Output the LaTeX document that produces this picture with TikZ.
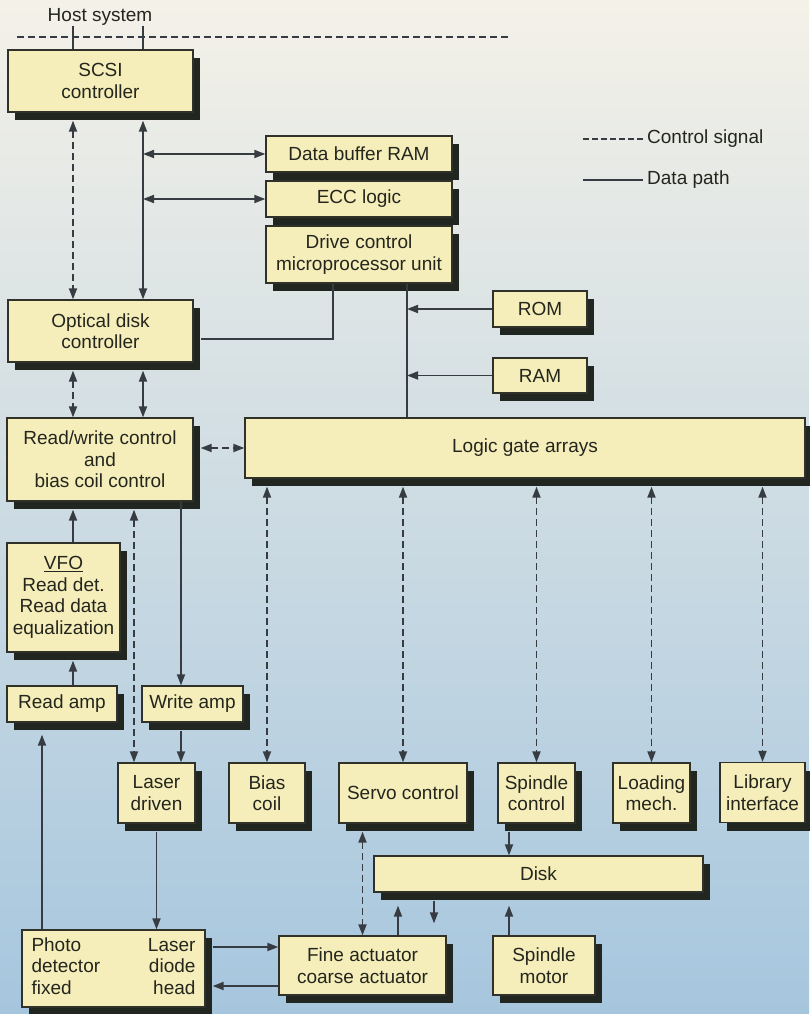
\documentclass[tikz,border=0pt]{standalone}
\usepackage{fontspec}
\setmainfont{Liberation Sans}
\usetikzlibrary{arrows.meta,shadows}

\definecolor{bgtop}{RGB}{244,241,232}
\definecolor{bgmid}{RGB}{212,222,226}
\definecolor{bgbot}{RGB}{166,198,222}
\definecolor{boxfill}{RGB}{245,238,186}
\definecolor{boxline}{RGB}{48,50,42}
\definecolor{shadowc}{RGB}{34,38,32}
\definecolor{wire}{RGB}{55,60,66}
\definecolor{inkc}{RGB}{36,38,30}

\begin{document}
\begin{tikzpicture}[x=1pt,y=-1pt]
	\tikzset{blk/.style = {draw=boxline, fill=boxfill, line width=1.3pt, inner sep=0pt, align=center, text=inkc,
			font=\fontsize{19}{21.5}\selectfont,
			drop shadow={shadow xshift=7pt, shadow yshift=-8pt, opacity=1, fill=shadowc}},
		lbl/.style = {text=inkc, font=\fontsize{19}{21.5}\selectfont, inner sep=0pt},
		dat/.style = {draw=wire, line width=1.8pt},
		ctl/.style = {draw=wire, line width=1.8pt, dash pattern=on 7pt off 4pt},
		onearr/.style = {-{Triangle[length=11pt,width=8pt]}},
		twoarr/.style = {{Triangle[length=11pt,width=8pt]}-{Triangle[length=11pt,width=8pt]}}}
	
	\useasboundingbox (0,0) rectangle (809,1014);
	\shade[top color=bgtop, middle color=bgmid, bottom color=bgbot] (0,0) rectangle (809,1014);
	
	% columns and rows used by the wires
	\coordinate (cA) at (73,0);
	\coordinate (cB) at (143,0);
	\coordinate (cC) at (333,0);
	\coordinate (cD) at (407,0);
	\coordinate (cE) at (134,0);
	\coordinate (cF) at (181,0);
	\coordinate (cG) at (42,0);
	\coordinate (cH) at (398,0);
	\coordinate (cI) at (434,0);
	\coordinate (cJ) at (509,0);
	\coordinate (rA) at (0,947);
	\coordinate (rB) at (0,986);
	
	\node[lbl] (host) at (100,17) {Host system};
	\coordinate (hostL) at (17,37);
	\coordinate (hostR) at (510,37);
	
	\node[blk, minimum width=185pt, minimum height=62pt] (scsi) at (100.5,81) {SCSI\\controller};
	\node[blk, minimum width=186pt, minimum height=36pt] (buf) at (359,154) {Data buffer RAM};
	\node[blk, minimum width=186pt, minimum height=36pt] (ecc) at (359,199) {ECC logic};
	\node[blk, minimum width=186pt, minimum height=57pt] (mpu) at (359,254.5) {Drive control\\microprocessor unit};
	\node[blk, minimum width=185pt, minimum height=62pt] (odc) at (100.5,331) {Optical disk\\controller};
	\node[blk, minimum width=94pt, minimum height=36pt] (rom) at (540,309) {ROM};
	\node[blk, minimum width=94pt, minimum height=35pt] (ram) at (540,375.5) {RAM};
	\node[blk, minimum width=186pt, minimum height=83pt] (rw) at (100,459.5) {Read/write control\\and\\bias coil control};
	\node[blk, minimum width=560pt, minimum height=60pt] (lga) at (525,448) {Logic gate arrays};
	\node[blk, minimum width=113pt, minimum height=109pt] (vfo) at (63.5,597.5) {\underline{VFO}\\Read det.\\Read data\\equalization};
	\node[blk, minimum width=110pt, minimum height=36pt] (ramp) at (62,704) {Read amp};
	\node[blk, minimum width=101pt, minimum height=36pt] (wamp) at (192.5,704) {Write amp};
	\node[blk, minimum width=77pt, minimum height=60pt] (ldrv) at (156.5,793) {Laser\\driven};
	\node[blk, minimum width=76pt, minimum height=60pt] (bias) at (267,793) {Bias\\coil};
	\node[blk, minimum width=128pt, minimum height=60pt] (servo) at (403,793) {Servo control};
	\node[blk, minimum width=77pt, minimum height=60pt] (spc) at (536.5,793) {Spindle\\control};
	\node[blk, minimum width=77pt, minimum height=60pt] (load) at (651.5,793) {Loading\\mech.};
	\node[blk, minimum width=85pt, minimum height=60pt] (lib) at (762.5,792.5) {Library\\interface};
	\node[blk, minimum width=329pt, minimum height=36pt] (disk) at (538.5,874) {Disk};
	\node[blk, minimum width=167pt, minimum height=59pt] (fine) at (362.5,965.5) {Fine actuator\\coarse actuator};
	\node[blk, minimum width=102pt, minimum height=59pt] (smot) at (544,965.5) {Spindle\\motor};
	\node[blk, minimum width=183pt, minimum height=77pt] (head) at (113.5,968.5)
		{\begin{tabular*}{164pt}{@{}l@{\extracolsep{\fill}}r@{}}Photo & Laser\\ detector & diode\\ fixed & head\end{tabular*}};
	
	% legend
	\node[lbl, anchor=west] (lgctl) at (647,139) {Control signal};
	\node[lbl, anchor=west] (lgdat) at (647,180) {Data path};
	\coordinate (lgc0) at (583,139);
	\coordinate (lgd0) at (583,180);
	\draw[ctl, line width=1.1pt, dash pattern=on 6pt off 3pt] (lgc0) -- ([xshift=-4pt]lgctl.west);
	\draw[dat, line width=1.1pt] (lgd0) -- ([xshift=-4pt]lgdat.west);
	
	% host side
	\draw[ctl, line width=1.3pt] (hostL) -- (hostR);
	\draw[dat] (host.south -| cA) -- (scsi.north -| cA);
	\draw[dat] (host.south -| cB) -- (scsi.north -| cB);
	
	\draw[ctl, twoarr] ([yshift=-8pt]scsi.south -| cA) -- (odc.north -| cA);
	\draw[dat, twoarr] ([yshift=-8pt]scsi.south -| cB) -- (odc.north -| cB);
	\draw[dat, twoarr] (buf.west -| cB) -- (buf.west);
	\draw[dat, twoarr] (ecc.west -| cB) -- (ecc.west);
	
	\draw[dat] (mpu.south -| cC) |- ([xshift=7pt,yshift=-8pt]odc.east);
	\draw[dat] (mpu.south -| cD) -- (lga.north -| cD);
	\draw[dat, onearr] (rom.west) -- (rom.west -| cD);
	\draw[dat, onearr] (ram.west) -- (ram.west -| cD);
	
	\draw[ctl, twoarr] ([yshift=-8pt]odc.south -| cA) -- (rw.north -| cA);
	\draw[dat, twoarr] ([yshift=-8pt]odc.south -| cB) -- (rw.north -| cB);
	\draw[ctl, twoarr] ([xshift=7pt]lga.west -| rw.east) -- (lga.west);
	
	% logic gate arrays to the drive parts
	\draw[ctl, twoarr] ([yshift=-8pt]lga.south -| bias.north) -- (bias.north);
	\draw[ctl, twoarr] ([yshift=-8pt]lga.south -| servo.north) -- (servo.north);
	\draw[ctl, twoarr] ([yshift=-8pt]lga.south -| spc.north) -- (spc.north);
	\draw[ctl, twoarr] ([yshift=-8pt]lga.south -| load.north) -- (load.north);
	\draw[ctl, twoarr] ([yshift=-8pt]lga.south -| lib.north) -- (lib.north);
	
	% read and write channel
	\draw[dat, onearr] (vfo.north -| cA) -- ([yshift=-8pt]rw.south -| cA);
	\draw[ctl, twoarr] ([yshift=-8pt]rw.south -| cE) -- (ldrv.north -| cE);
	\draw[dat, onearr] (rw.south -| cF) -- (wamp.north -| cF);
	\draw[dat, onearr] (ramp.north -| cA) -- ([yshift=-8pt]vfo.south -| cA);
	\draw[dat, onearr] ([yshift=-8pt]wamp.south -| cF) -- (ldrv.north -| cF);
	\draw[dat, onearr] ([yshift=-8pt]ldrv.south) -- (head.north -| ldrv.south);
	\draw[dat, onearr] (head.north -| cG) -- ([yshift=-12pt]ramp.south -| cG);
	
	% head, actuators, disk
	\draw[dat, onearr] ([xshift=7pt]head.east |- rA) -- (fine.west |- rA);
	\draw[dat, onearr] (fine.west |- rB) -- ([xshift=7pt]head.east |- rB);
	\draw[ctl, twoarr] ([yshift=-8pt]servo.south -| fine.north) -- (fine.north);
	\draw[dat, onearr] (fine.north -| cH) -- ([yshift=-13pt]disk.south -| cH);
	\draw[dat, onearr, shorten >=12pt] ([yshift=-8pt]disk.south -| cI) -- (fine.north -| cI);
	\draw[dat, onearr] ([yshift=-8pt]spc.south -| cJ) -- (disk.north -| cJ);
	\draw[dat, onearr] (smot.north -| cJ) -- ([yshift=-13pt]disk.south -| cJ);
	
\end{tikzpicture}
\end{document}
